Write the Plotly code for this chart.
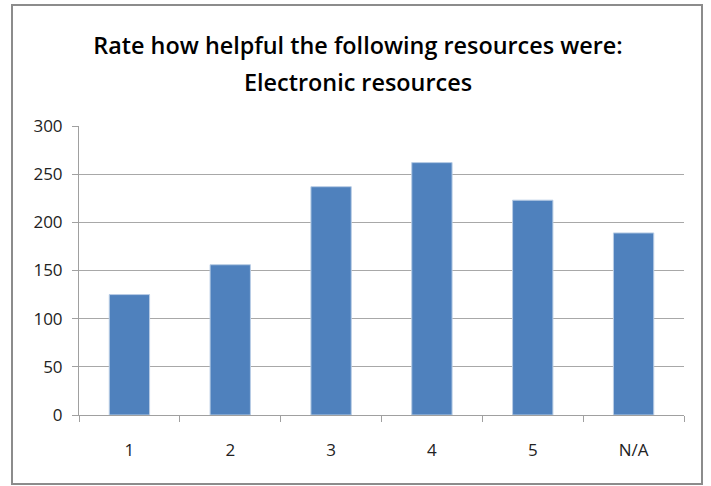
import plotly.graph_objects as go

categories = ["1", "2", "3", "4", "5", "N/A"]
values = [125, 156, 237, 262, 223, 189]
y_ticks = [0, 50, 100, 150, 200, 250, 300]
title_line1 = "Rate how helpful the following resources were:"
title_line2 = "Electronic resources"

W, H = 711, 486
L, R, T, B = 79, 27, 126, 71
pw, ph = W - L - R, H - T - B

def px_to_paper_x(px):
    return (px - L) / pw

def px_to_paper_y(py):
    return (H - B - py) / ph

fig = go.Figure(go.Bar(
    x=categories, y=values,
    marker=dict(color="#4F81BD", line=dict(color="#B9CDE5", width=1)),
    width=0.4,
))

fig.update_layout(
    width=W, height=H,
    margin=dict(l=L, r=R, t=T, b=B),
    paper_bgcolor="white", plot_bgcolor="white",
    showlegend=False,
    title=dict(text=title_line1, x=358 / W, xanchor="center",
               y=1 - 46 / H, yanchor="middle",
               font=dict(family="Open Sans", size=23.4, color="#000000", weight=600)),
    font=dict(family="Open Sans", size=17, color="#222222"),
)
fig.add_annotation(text=title_line2, xref="paper", yref="paper",
                   x=px_to_paper_x(358), y=px_to_paper_y(82),
                   xanchor="center", yanchor="middle", showarrow=False,
                   font=dict(family="Open Sans", size=23.4, color="#000000", weight=600))

fig.update_xaxes(showgrid=False, showline=True, linecolor="#A0A0A0", linewidth=1,
                 ticks="outside", tickson="boundaries", ticklen=6, tickcolor="#A0A0A0",
                 tickfont=dict(size=17, color="#222222"), ticklabelstandoff=20)
fig.update_yaxes(range=[0, 300], tickvals=y_ticks, showgrid=True, gridcolor="#A8A8A8",
                 gridwidth=1, showline=True, linecolor="#A0A0A0", linewidth=1,
                 ticks="outside", ticklen=6, tickcolor="#A0A0A0", zeroline=False,
                 tickfont=dict(size=17, color="#222222"), ticklabelstandoff=6)

# outer chart border
fig.add_shape(type="rect", xref="paper", yref="paper",
              x0=px_to_paper_x(12), x1=px_to_paper_x(702),
              y0=px_to_paper_y(484), y1=px_to_paper_y(5),
              line=dict(color="#8C8C8C", width=2), fillcolor="rgba(0,0,0,0)", layer="below")

fig.write_html("out.html")
